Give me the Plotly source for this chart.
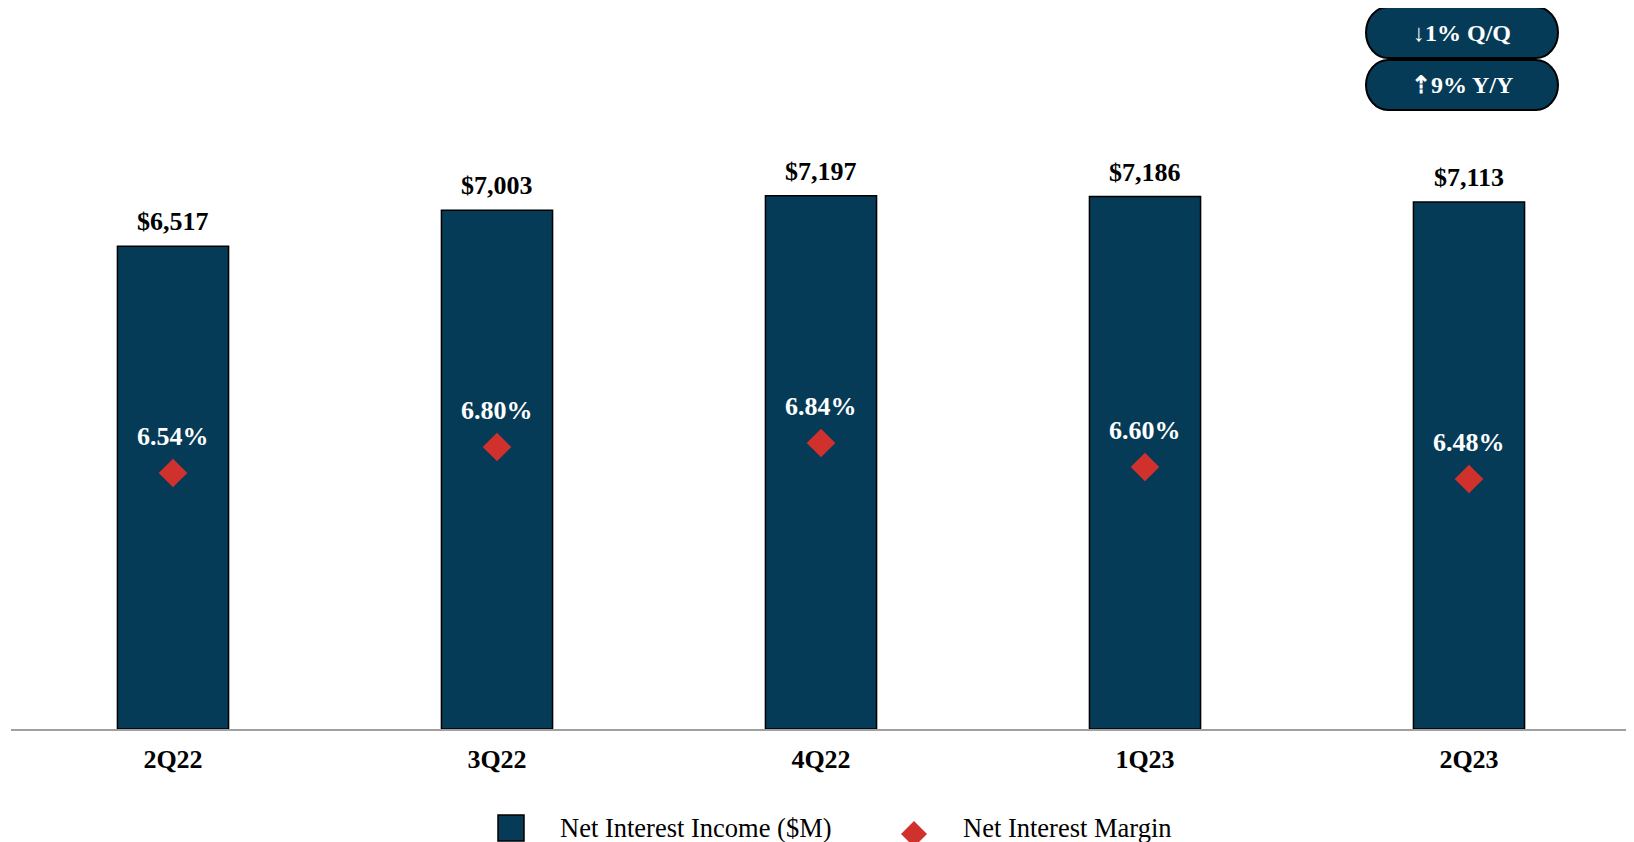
import plotly.graph_objects as go

quarters = ["2Q22", "3Q22", "4Q22", "1Q23", "2Q23"]
nii = [6517, 7003, 7197, 7186, 7113]
nim = [6.54, 6.80, 6.84, 6.60, 6.48]
nii_labels = ["$6,517", "$7,003", "$7,197", "$7,186", "$7,113"]
nim_labels = ["6.54%", "6.80%", "6.84%", "6.60%", "6.48%"]
badges = ["↓1% Q/Q", "⇡9% Y/Y"]
legend_names = ["Net Interest Income ($M)", "Net Interest Margin"]

BAR = "#053B57"
RED = "#D0312D"
FONT = "Liberation Serif, Times New Roman, serif"

W, H = 1634, 842
OX, OY = 8, 8  # browser body margin
# plot area in screen pixels
SL, SR, ST, SB = 11, 1631, 100, 729
ML, MR, MT = SL - OX, W - (SR - OX), ST - OY
MB = H - (SB - OY)
PW, PH = W - ML - MR, H - MT - MB


def s2p(x, y):
    return ((x - OX) - ML) / PW, (H - MB - (y - OY)) / PH


def path_from(pts):
    out = ""
    for cmd, ps in pts:
        out += cmd + " ".join("%.6f,%.6f" % s2p(px, py) for px, py in ps) + " "
    return out + "Z"


fig = go.Figure()
fig.add_trace(go.Bar(
    x=quarters, y=nii, marker=dict(color=BAR, line=dict(color="#000000", width=1.5)),
    width=0.343, showlegend=False, hoverinfo="skip", name=legend_names[0]))
fig.add_trace(go.Scatter(
    x=quarters, y=nim, yaxis="y2", mode="markers", name=legend_names[1],
    marker=dict(symbol="diamond", size=22, color=RED), showlegend=False, hoverinfo="skip"))

annotations = []
for q, v, t in zip(quarters, nii, nii_labels):
    annotations.append(dict(x=q, y=v, xref="x", yref="y", text=t, showarrow=False,
                            yanchor="bottom", yshift=8,
                            font=dict(family=FONT, size=26, color="#000000", weight="bold")))
for q, v, t in zip(quarters, nim, nim_labels):
    annotations.append(dict(x=q, y=v, xref="x", yref="y2", text=t, showarrow=False,
                            yanchor="middle", yshift=37,
                            font=dict(family=FONT, size=26, color="#FFFFFF", weight="bold")))

shapes = []
pills = [(1366, 1558, 7, 58), (1366, 1558, 60, 110)]
k = 0.5523
for (x1, x2, y1, y2), txt in zip(pills, badges):
    rx = 22
    ym = (y1 + y2) / 2
    ry = (y2 - y1) / 2
    pts = [
        ("M", [(x1 + rx, y1)]),
        ("L", [(x2 - rx, y1)]),
        ("C", [(x2 - rx + k * rx, y1), (x2, ym - k * ry), (x2, ym)]),
        ("C", [(x2, ym + k * ry), (x2 - rx + k * rx, y2), (x2 - rx, y2)]),
        ("L", [(x1 + rx, y2)]),
        ("C", [(x1 + rx - k * rx, y2), (x1, ym + k * ry), (x1, ym)]),
        ("C", [(x1, ym - k * ry), (x1 + rx - k * rx, y1), (x1 + rx, y1)]),
    ]
    shapes.append(dict(type="path", xref="paper", yref="paper", path=path_from(pts),
                       fillcolor=BAR, line=dict(color="#000000", width=2)))
    cx, cy = s2p((x1 + x2) / 2, ym)
    annotations.append(dict(x=cx, y=cy, xref="paper", yref="paper", text=txt, showarrow=False,
                            xanchor="center", yanchor="middle",
                            font=dict(family=FONT, size=24, color="#FFFFFF", weight="bold")))

# custom legend
sx0, sy0 = s2p(498, 841)
sx1, sy1 = s2p(524, 815)
shapes.append(dict(type="rect", xref="paper", yref="paper", x0=sx0, x1=sx1, y0=sy0, y1=sy1,
                   fillcolor=BAR, line=dict(color="#000000", width=1.5)))
dcx, dcy, dr = 914, 834, 13
shapes.append(dict(type="path", xref="paper", yref="paper",
                   path=path_from([("M", [(dcx, dcy - dr)]), ("L", [(dcx + dr, dcy)]),
                                   ("L", [(dcx, dcy + dr)]), ("L", [(dcx - dr, dcy)])]),
                   fillcolor=RED, line=dict(width=0)))
for (tx, ty), name in zip([(558, 828), (961, 828)], legend_names):
    px_, py_ = s2p(tx, ty)
    annotations.append(dict(x=px_, y=py_, xref="paper", yref="paper", text=name, showarrow=False,
                            xanchor="left", yanchor="middle",
                            font=dict(family=FONT, size=26.5, color="#000000")))

ymax = (SB - ST) / ((SB - 202) / 7113)
y2_per_px = 1 / 100.0
y2_lo = 6.54 - (SB - 473) * y2_per_px
y2_hi = 6.54 + (473 - ST) * y2_per_px

fig.update_layout(
    width=W, height=H,
    margin=dict(l=ML, r=MR, t=MT, b=MB, pad=0),
    paper_bgcolor="#FFFFFF", plot_bgcolor="#FFFFFF",
    font=dict(family=FONT, color="#000000"),
    showlegend=False,
    xaxis=dict(showgrid=False, showline=True, linecolor="#A0A0A0", linewidth=2,
               ticks="", tickfont=dict(family=FONT, size=26, color="#000000", weight="bold"),
               ticklabelstandoff=6, zeroline=False, fixedrange=True),
    yaxis=dict(range=[0, ymax], visible=False, showgrid=False, zeroline=False),
    yaxis2=dict(range=[y2_lo, y2_hi], overlaying="y", visible=False, showgrid=False, zeroline=False),
    annotations=annotations,
    shapes=shapes,
)

fig.write_html("out.html")
